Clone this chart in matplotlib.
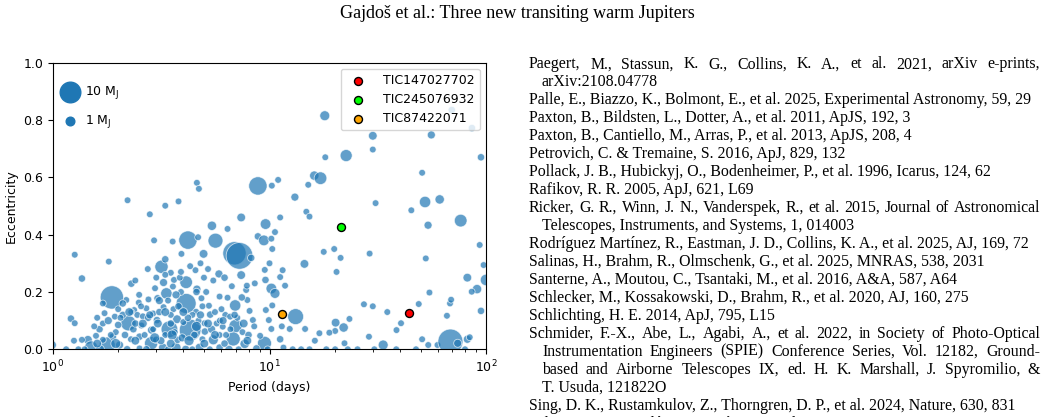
import numpy as np
import matplotlib.pyplot as plt

# period (days), eccentricity, planet mass (M_J)
period = [18.0, 69.5, 86.1, 30.0, 55.9, 30.0, 22.6, 18.1, 94.8, 16.1, 17.2, 50.7,
          8.84, 4.62, 4.72, 10.96, 10.25, 15.1, 13.1, 2.21, 3.30, 3.80, 2.80, 30.9,
          52.3, 61.1, 45.2, 76.4, 14.8, 15.3, 7.40, 11.2, 5.42, 9.59, 54.0, 6.40,
          4.20, 5.63, 2.93, 3.57, 8.84, 9.42, 10.6, 10.2, 4.68, 10.3, 29.0, 19.9,
          17.8, 21.3, 52.7, 93.5, 1.26, 1.81, 6.89, 7.27, 4.96, 3.92, 3.17, 3.30,
          8.23, 14.5, 10.0, 2.74, 1.36, 2.30, 20.4, 9.51, 11.5, 11.2, 7.40, 5.84,
          4.55, 4.98, 82.0, 100.0, 97.5, 90.9, 85.9, 54.8, 68.2, 69.0, 48.9, 40.5,
          38.6, 35.0, 27.3, 30.0, 28.8, 33.5, 38.5, 47.5, 50.7, 54.1, 59.7, 66.0,
          68.5, 74.0, 82.0, 94.8, 84.1, 23.4, 22.0, 20.2, 20.1, 18.9, 22.2, 20.1,
          25.5, 18.3, 16.2, 17.0, 15.3, 14.6, 13.2, 11.4, 12.4, 11.2, 11.6, 10.2,
          9.93, 10.3, 10.2, 10.6, 11.8, 9.48, 9.05, 8.38, 8.09, 7.9, 7.8, 7.45,
          7.86, 6.94, 6.97, 6.80, 7.68, 6.25, 6.08, 5.88, 5.50, 5.32, 5.25, 4.85,
          4.62, 4.12, 4.12, 4.30, 3.45, 3.74, 3.34, 3.24, 3.62, 3.04, 3.24, 3.02,
          2.85, 2.84, 2.56, 2.51, 2.70, 2.76, 2.37, 2.49, 2.23, 2.18, 2.29, 2.10,
          1.87, 1.93, 1.73, 1.60, 1.64, 1.45, 1.78, 1.50, 1.21, 1.26, 1.25, 1.36,
          0.99, 1.31, 2.03, 2.51, 3.22, 3.70, 4.75, 5.88, 8.7, 5.03, 5.01, 3.76,
          1.89, 1.70, 1.58, 3.0, 4.58, 5.88, 2.96, 3.50, 3.58, 8.55, 9.58, 6.58,
          9.62, 1.15, 1.4, 1.65, 2.2, 2.7, 3.4, 4.1, 4.4, 5.3, 6.5, 7.2, 9.8, 12.8,
          14.0, 23.0, 30.5, 80.0, 2.45, 2.9, 3.6, 3.9, 4.4, 4.0, 3.3, 2.0, 2.6, 5.7,
          6.3, 4.9, 3.5, 3.85, 3.3, 1.95, 2.35, 6.0,
          1.55, 1.7, 1.85, 2.05, 2.15, 2.3, 2.4, 2.55, 2.65, 2.75, 2.9, 3.1, 3.15, 3.4,
          3.5, 3.65, 3.8, 3.95, 4.2, 4.5, 4.7, 4.9, 5.1, 5.4, 5.6, 5.9, 6.2, 6.6,
          7.1, 7.5, 8.0, 8.5, 3.9, 4.3, 4.8, 2.5, 3.0, 1.7, 2.0, 6.4, 5.5, 6.7,
          1.8, 2.1, 2.25, 2.6, 2.8, 3.05, 3.3, 3.55, 3.7, 4.0, 4.6, 4.8, 5.2, 5.6, 6.1,
          6.9, 7.6, 2.4, 2.95, 4.25, 5.0, 7.9, 1.6, 1.95, 3.5, 4.6, 3.1, 2.4, 5.2, 6.2]
ecc = [0.815, 0.835, 0.772, 0.745, 0.748, 0.697, 0.676, 0.670, 0.670, 0.606, 0.597, 0.616,
       0.570, 0.581, 0.560, 0.591, 0.571, 0.574, 0.531, 0.520, 0.501, 0.516, 0.471, 0.510,
       0.514, 0.523, 0.485, 0.449, 0.480, 0.463, 0.460, 0.460, 0.431, 0.437, 0.433, 0.420,
       0.381, 0.379, 0.380, 0.376, 0.394, 0.380, 0.409, 0.386, 0.391, 0.350, 0.334, 0.350,
       0.340, 0.319, 0.317, 0.364, 0.330, 0.306, 0.335, 0.326, 0.333, 0.333, 0.288, 0.314,
       0.319, 0.298, 0.300, 0.280, 0.247, 0.229, 0.270, 0.277, 0.276, 0.252, 0.259, 0.263,
       0.276, 0.250, 0.250, 0.242, 0.294, 0.210, 0.201, 0.198, 0.160, 0.173, 0.158, 0.091,
       0.067, 0.130, 0.157, 0.150, 0.044, 0.015, 0.0, 0.0, 0.035, 0.015, 0.015, 0.117,
       0.027, 0.021, 0.035, 0.134, 0.042, 0.106, 0.076, 0.093, 0.064, 0.058, 0.021, 0.0,
       0.0, 0.0, 0.030, 0.056, 0.0, 0.071, 0.114, 0.080, 0.071, 0.035, 0.006, 0.071,
       0.102, 0.153, 0.212, 0.195, 0.222, 0.021, 0.047, 0.102, 0.134, 0.172, 0.207, 0.181,
       0.222, 0.153, 0.081, 0.036, 0.019, 0.120, 0.079, 0.050, 0.033, 0.121, 0.152, 0.178,
       0.210, 0.234, 0.160, 0.067, 0.070, 0.105, 0.195, 0.233, 0.242, 0.178, 0.147, 0.102,
       0.067, 0.021, 0.083, 0.044, 0.143, 0.174, 0.137, 0.163, 0.091, 0.172, 0.035, 0.120,
       0.181, 0.114, 0.126, 0.110, 0.070, 0.033, 0.015, 0.006, 0.107, 0.091, 0.030, 0.033,
       0.015, 0.0, 0.015, 0.003, 0.006, 0.006, 0.006, 0.006, 0.003, 0.062, 0.091, 0.033,
       0.044, 0.033, 0.047, 0.033, 0.131, 0.184, 0.213, 0.267, 0.219, 0.230, 0.242, 0.114,
       0.137, 0.0, 0.0, 0.0, 0.0, 0.0, 0.0, 0.0, 0.0, 0.0, 0.0, 0.0, 0.0, 0.0,
       0.0, 0.0, 0.0, 0.0, 0.12, 0.125, 0.14, 0.2, 0.12, 0.095, 0.05, 0.085, 0.115, 0.09,
       0.05, 0.035, 0.12, 0.25, 0.26, 0.06, 0.07, 0.14,
       0.08, 0.09, 0.05, 0.11, 0.05, 0.13, 0.09, 0.15, 0.05, 0.11, 0.07, 0.13, 0.03, 0.17,
       0.09, 0.06, 0.15, 0.04, 0.11, 0.05, 0.10, 0.15, 0.20, 0.07, 0.13, 0.10, 0.02, 0.07,
       0.11, 0.06, 0.05, 0.08, 0.27, 0.29, 0.30, 0.19, 0.25, 0.16, 0.14, 0.18, 0.24, 0.22,
       0.10, 0.16, 0.13, 0.09, 0.12, 0.09, 0.13, 0.05, 0.19, 0.13, 0.08, 0.12, 0.09, 0.05, 0.10,
       0.12, 0.09, 0.03, 0.04, 0.03, 0.02, 0.03, 0.02, 0.02, 0.02, 0.20, 0.17, 0.24, 0.28, 0.25]
mass = [1.6, 0.45, 0.45, 1.0, 0.72, 0.22, 2.8, 0.22, 0.45, 1.3, 3.2, 0.22,
        7.7, 0.22, 0.22, 0.22, 0.22, 0.22, 0.72, 0.22, 0.22, 0.22, 0.22, 0.22,
        2.4, 1.3, 0.22, 3.2, 0.22, 0.22, 1.0, 0.22, 1.3, 2.0, 0.72, 0.22,
        7.7, 4.8, 0.22, 0.22, 0.45, 2.0, 0.22, 0.22, 0.22, 0.22, 0.22, 0.22,
        0.22, 0.22, 0.22, 0.22, 0.22, 0.22, 13.0, 17.3, 1.0, 0.22, 3.6, 0.45,
        0.45, 1.0, 0.22, 0.22, 0.45, 0.45, 0.22, 0.22, 0.22, 0.22, 1.0, 0.72,
        0.22, 0.22, 1.0, 2.4, 0.22, 1.3, 0.22, 0.22, 0.22, 0.22, 0.22, 0.22,
        0.22, 0.22, 0.22, 0.22, 0.22, 1.6, 0.22, 0.22, 0.22, 0.22, 0.22, 0.22,
        15.1, 0.72, 0.72, 0.45, 0.22, 0.22, 1.3, 1.0, 0.22, 0.22, 0.22, 0.22,
        0.22, 0.22, 0.22, 0.22, 0.22, 0.22, 5.6, 0.22, 0.22, 0.45, 0.22, 0.22,
        0.22, 0.22, 2.0, 1.6, 0.22, 4.1, 0.22, 0.22, 0.22, 0.22, 0.22, 0.45,
        0.22, 2.4, 3.6, 4.1, 1.3, 0.22, 0.22, 0.22, 1.6, 0.45, 0.22, 0.22,
        0.72, 3.2, 9.3, 11.1, 6.2, 1.0, 2.4, 0.72, 0.22, 0.45, 0.22, 0.45,
        0.72, 3.6, 0.22, 0.45, 0.22, 0.22, 0.22, 0.22, 5.1, 0.22, 0.22, 0.45,
        13.0, 0.22, 0.22, 0.22, 0.45, 1.0, 5.6, 3.6, 0.45, 0.22, 0.22, 0.22,
        1.0, 0.22, 0.72, 0.22, 1.0, 1.6, 1.0, 0.45, 0.45, 0.45, 0.22, 0.45,
        0.45, 0.22, 0.22, 0.45, 0.22, 0.22, 0.22, 0.22, 0.22, 0.22, 0.45, 0.22,
        0.22, 0.22, 0.22, 1.0, 0.45, 0.45, 0.22, 0.72, 0.22, 0.22, 0.72, 0.22, 0.22, 0.22,
        0.22, 0.22, 0.22, 0.22, 0.22, 0.22, 0.22, 0.22, 0.22, 0.22, 0.22, 0.45, 0.22, 0.22,
        0.22, 0.22, 0.22, 0.22, 0.22, 0.22, 0.45, 0.22,
        0.22, 0.22, 0.22, 0.22, 0.45, 0.22, 0.45, 0.22, 0.22, 0.45, 0.22, 0.45, 0.72, 0.22,
        0.45, 0.22, 0.45, 0.72, 0.45, 0.45, 0.22, 0.22, 0.22, 0.72, 0.22, 0.22, 0.45, 0.22,
        0.22, 0.22, 0.45, 0.22, 0.22, 0.22, 0.22, 0.22, 0.22, 0.22, 0.22, 0.22, 0.22, 0.22,
        0.72, 0.45, 1.0, 1.0, 0.72, 1.0, 1.0, 1.6, 0.72, 1.0, 1.6, 0.72, 1.0, 1.0, 0.72,
        0.45, 1.0, 1.0, 1.6, 1.6, 1.0, 1.0, 1.0, 1.6, 1.0, 0.45, 0.72, 0.22, 0.22, 0.45]

# the three new planets
tic_names = ["TIC147027702", "TIC245076932", "TIC87422071"]
tic_period = [44.0, 21.5, 11.4]
tic_ecc = [0.128, 0.428, 0.123]
tic_colors = ["red", "lime", "orange"]

refs = [
    ("Paegert, M., Stassun, K. G., Collins, K. A., et al. 2021, arXiv e-prints,", 0, True),
    ("arXiv:2108.04778", 1, False),
    ("Palle, E., Biazzo, K., Bolmont, E., et al. 2025, Experimental Astronomy, 59, 29", 0, False),
    ("Paxton, B., Bildsten, L., Dotter, A., et al. 2011, ApJS, 192, 3", 0, False),
    ("Paxton, B., Cantiello, M., Arras, P., et al. 2013, ApJS, 208, 4", 0, False),
    ("Petrovich, C. & Tremaine, S. 2016, ApJ, 829, 132", 0, False),
    ("Pollack, J. B., Hubickyj, O., Bodenheimer, P., et al. 1996, Icarus, 124, 62", 0, False),
    ("Rafikov, R. R. 2005, ApJ, 621, L69", 0, False),
    ("Ricker, G. R., Winn, J. N., Vanderspek, R., et al. 2015, Journal of Astronomical", 0, True),
    ("Telescopes, Instruments, and Systems, 1, 014003", 1, False),
    ("Rodríguez Martínez, R., Eastman, J. D., Collins, K. A., et al. 2025, AJ, 169, 72", 0, False),
    ("Salinas, H., Brahm, R., Olmschenk, G., et al. 2025, MNRAS, 538, 2031", 0, False),
    ("Santerne, A., Moutou, C., Tsantaki, M., et al. 2016, A&A, 587, A64", 0, False),
    ("Schlecker, M., Kossakowski, D., Brahm, R., et al. 2020, AJ, 160, 275", 0, False),
    ("Schlichting, H. E. 2014, ApJ, 795, L15", 0, False),
    ("Schmider, F.-X., Abe, L., Agabi, A., et al. 2022, in Society of Photo-Optical", 0, True),
    ("Instrumentation Engineers (SPIE) Conference Series, Vol. 12182, Ground-", 1, True),
    ("based and Airborne Telescopes IX, ed. H. K. Marshall, J. Spyromilio, &", 1, True),
    ("T. Usuda, 121822O", 1, False),
    ("Sing, D. K., Rustamkulov, Z., Thorngren, D. P., et al. 2024, Nature, 630, 831", 0, False),
    ("Tala Pinto, M., Jordán, A., Acuña, L., et al. 2025, A&A, 694, A268", 0, False),
]


def msize(m):
    return 18.7 + 20.2 * np.asarray(m)


W, H = 1046, 417
fig = plt.figure(figsize=(W / 100, H / 100), dpi=100)

fig.text(517 / W, 1 - 13 / H, "Gajdoš et al.: Three new transiting warm Jupiters",
         ha="center", va="center", family="Liberation Serif", fontsize=13)

ax = fig.add_axes([53 / W, 1 - 349.3 / H, 433 / W, 286.6 / H])
ax.scatter(period, ecc, s=msize(mass), color="C0", alpha=0.7, edgecolor="white", linewidth=0.6)
tic_handles = []
for n, p, e, c in zip(tic_names, tic_period, tic_ecc, tic_colors):
    tic_handles.append(ax.scatter(p, e, s=33, color=c, edgecolor="black", linewidth=1, label=n, zorder=5))

ax.set_xscale("log")
ax.set_xlim(1, 100)
ax.set_ylim(0, 1)
ax.set_yticks(np.arange(0, 1.01, 0.2))
ax.tick_params(labelsize=9)
ax.set_xlabel("Period (days)", fontsize=9)
ax.set_ylabel("Eccentricity", fontsize=9)

h10 = ax.scatter([], [], s=msize(10), color="C0", label=r"10 M$_\mathrm{J}$")
h1 = ax.scatter([], [], s=msize(1), color="C0", label=r"1 M$_\mathrm{J}$")
leg1 = ax.legend(handles=[h10, h1], loc="upper left", bbox_to_anchor=(0.025, 0.926),
                 frameon=False, fontsize=9, labelspacing=1.0, handlelength=1.0,
                 handletextpad=0.7, borderpad=0, borderaxespad=0)
ax.add_artist(leg1)
ax.legend(handles=tic_handles, loc="upper right", fontsize=9, handletextpad=1.0)

# reference list, justified like the journal page
renderer = fig.canvas.get_renderer()
fs = 11.4
x_left, x_right, indent = 529, 1040, 13
y0, dy = 68.5, 17.95
for i, (line, ind, just) in enumerate(refs):
    x0 = x_left + ind * indent
    yb = 1 - (y0 + i * dy) / H
    if not just:
        fig.text(x0 / W, yb, line, family="Liberation Serif", fontsize=fs, va="baseline")
        continue
    words = line.split(" ")
    objs = [fig.text(0, yb, w, family="Liberation Serif", fontsize=fs, va="baseline") for w in words]
    widths = [o.get_window_extent(renderer).width for o in objs]
    gap = (x_right - x0 - sum(widths)) / (len(words) - 1)
    x = x0
    for o, w in zip(objs, widths):
        o.set_x(x / W)
        x += w + gap

fig.savefig("out.png", dpi=100)
